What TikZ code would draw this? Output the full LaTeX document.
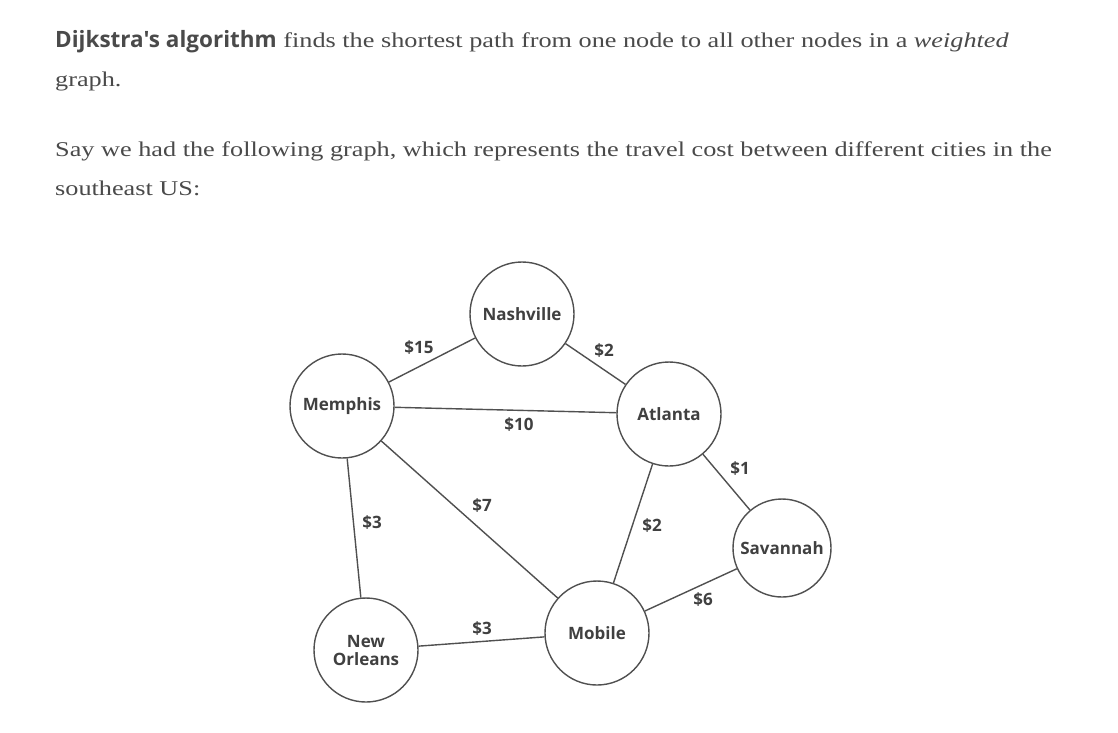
\documentclass[tikz,border=0pt]{standalone}
\usepackage{fontspec}
\setmainfont{Liberation Serif}[FakeStretch=1.25]
\newfontfamily\labfont{Open Sans}
\definecolor{txt}{HTML}{4A4A4A}
\definecolor{lbl}{HTML}{404040}
\definecolor{edge}{HTML}{505050}
\begin{document}
\begin{tikzpicture}[x=1pt,y=-1pt,
  city/.style={circle,draw=edge,line width=1.4pt,minimum size=104pt,inner sep=0pt,
    font=\labfont\bfseries\fontsize{17}{18}\selectfont,text=lbl,align=center},
  road/.style={draw=edge,line width=1.4pt},
  cost/.style={font=\labfont\bfseries\fontsize{17}{17}\selectfont,text=lbl,inner sep=0pt},
  para/.style={anchor=base west,inner sep=0pt,text=txt,font=\fontsize{21}{21}\selectfont}]
\useasboundingbox[fill=white] (0,0) rectangle (1118,732);
% text
\node[para] (l1) at (55,47) {{\labfont\bfseries\fontsize{22.5}{22.5}\selectfont Dijkstra's algorithm} finds the shortest path from one node to all other nodes in a \textit{weighted}};
\node[para] (l2) at (55,86) {graph.};
\node[para] (l3) at (55,156) {Say we had the following graph, which represents the travel cost between different cities in the};
\node[para] (l4) at (55,195) {southeast US:};
% cities
\node[city] (nas) at (522,314) {Nashville};
\node[city] (mem) at (342,406) {Memphis};
\node[city] (atl) at (669,414) {Atlanta};
\node[city,minimum size=98pt] (sav) at (782,548) {Savannah};
\node[city] (mob) at (597,633) {Mobile};
\node[city] (nol) at (366,650) {New\\Orleans};
% roads
\draw[road] (mem) -- (nas);
\draw[road] (nas) -- (atl);
\draw[road] (mem) -- (atl);
\draw[road] (mem) -- (nol);
\draw[road] (mem) -- (mob);
\draw[road] (atl) -- (mob);
\draw[road] (atl) -- (sav);
\draw[road] (mob) -- (sav);
\draw[road] (nol) -- (mob);
% costs
\node[cost] (c1) at (419,348) {\$15};
\node[cost] (c2) at (604,351) {\$2};
\node[cost] (c3) at (519,425) {\$10};
\node[cost] (c4) at (740,469) {\$1};
\node[cost] (c5) at (482,506) {\$7};
\node[cost] (c6) at (372,523) {\$3};
\node[cost] (c7) at (652,526) {\$2};
\node[cost] (c8) at (703,600) {\$6};
\node[cost] (c9) at (482,629) {\$3};
\end{tikzpicture}
\end{document}
